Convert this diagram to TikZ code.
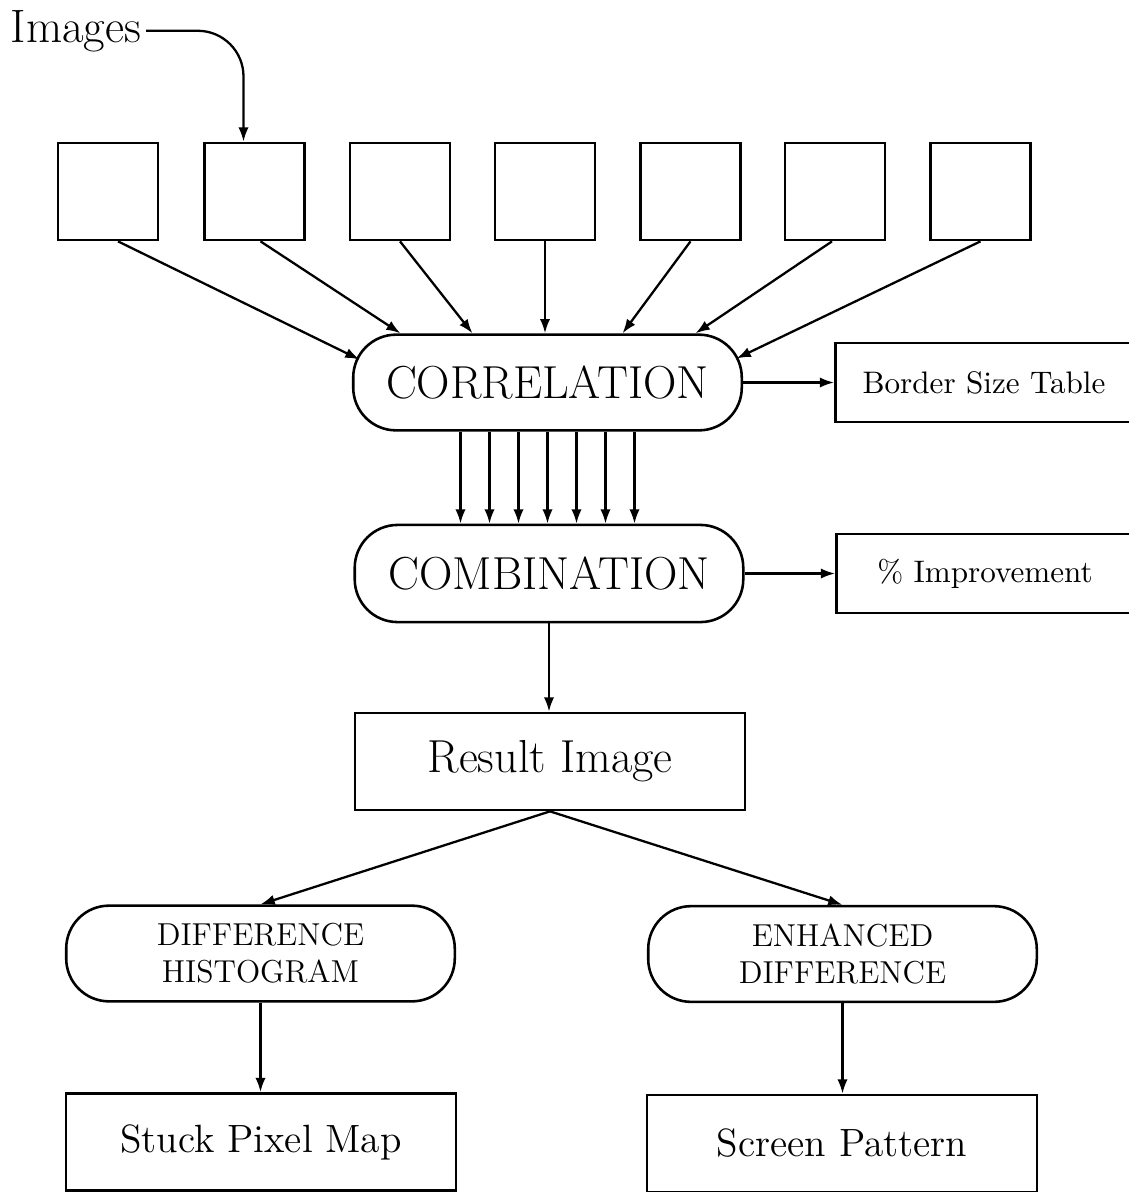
\documentclass[tikz,border=0pt]{standalone}
\usetikzlibrary{arrows.meta,calc}
\tikzset{
  frame/.style={draw,line width=0.9pt,minimum width=35pt,minimum height=34pt,inner sep=0pt},
  process/.style={draw,line width=0.9pt,rounded corners=15pt,minimum width=136pt,minimum height=33.5pt,inner sep=0pt,align=center},
  result/.style={draw,line width=0.9pt,minimum width=136.5pt,minimum height=34pt,inner sep=0pt},
  outbox/.style={draw,line width=0.9pt,minimum width=104pt,minimum height=27.6pt,inner sep=0pt},
  arrow/.style={-{Latex[length=5pt,width=3.6pt]},line width=0.8pt}
}
\begin{document}
\begin{tikzpicture}[x=0.35pt,y=-0.35pt]
\useasboundingbox (0,0) rectangle (1129,1192);
% input images
\node[anchor=base west,inner sep=1.5pt,font=\fontsize{16.4}{19}\selectfont] (img) at (6,42) {Images};
\foreach \i/\x in {1/108,2/254.5,3/400,4/545,5/690.5,6/835,7/980.5}
  \node[frame] (b\i) at (\x,191.5) {};
\draw[arrow,rounded corners=16pt] (img.east) -| ($(b2.north)+(-11,0)$);
% processing chain
\node[process,font=\fontsize{16.2}{19}\selectfont] (corr) at (547.5,382.5) {CORRELATION};
\node[process,font=\fontsize{16.2}{19}\selectfont,minimum height=34pt] (comb) at (549,573.5) {COMBINATION};
\node[result,font=\fontsize{16.2}{19}\selectfont] (res) at (550,761.5) {Result Image};
\node[outbox,font=\fontsize{10.9}{13}\selectfont] (bst) at (984,382.5) {Border Size Table};
\node[outbox,font=\fontsize{10.9}{13}\selectfont] (imp) at (985,573.5) {\% Improvement};
\draw[arrow] ($(b1.south)+(10,0)$) -- ($(corr.center)+(-188,-23)$);
\draw[arrow] ($(b2.south)+(6,0)$) -- ($(corr.north)+(-147,0)$);
\draw[arrow] (b3.south) -- ($(corr.north)+(-75,0)$);
\draw[arrow] (b4.south) -- (b4.south |- corr.north);
\draw[arrow] (b5.south) -- ($(corr.north)+(75,0)$);
\draw[arrow] ($(b6.south)+(-3,0)$) -- ($(corr.north)+(148,0)$);
\draw[arrow] (b7.south) -- ($(corr.center)+(189,-24)$);
\foreach \k in {-3,...,3}
  \draw[arrow] ($(corr.south)+(\k*29,0)$) coordinate (t) -- (t |- comb.north);
\draw[arrow] (corr.east) -- (bst.west);
\draw[arrow] (comb.east) -- (imp.west);
\draw[arrow] (comb.south) -- (comb.south |- res.north);
% outputs
\node[process,font=\fontsize{11.1}{13}\selectfont] (diff) at (260.5,953.5) {DIFFERENCE\\HISTOGRAM};
\node[process,font=\fontsize{11.1}{13}\selectfont] (enh) at (842.5,954) {ENHANCED\\DIFFERENCE};
\node[result,font=\fontsize{13.8}{16}\selectfont] (spm) at (261,1142) {Stuck Pixel Map};
\node[result,font=\fontsize{13.8}{16}\selectfont] (scr) at (842,1143.5) {Screen Pattern};
\draw[arrow] (res.south) -- (diff.north);
\draw[arrow] (res.south) -- (enh.north);
\draw[arrow] (diff.south) -- (diff.south |- spm.north);
\draw[arrow] (enh.south) -- (enh.south |- scr.north);
\end{tikzpicture}
\end{document}
